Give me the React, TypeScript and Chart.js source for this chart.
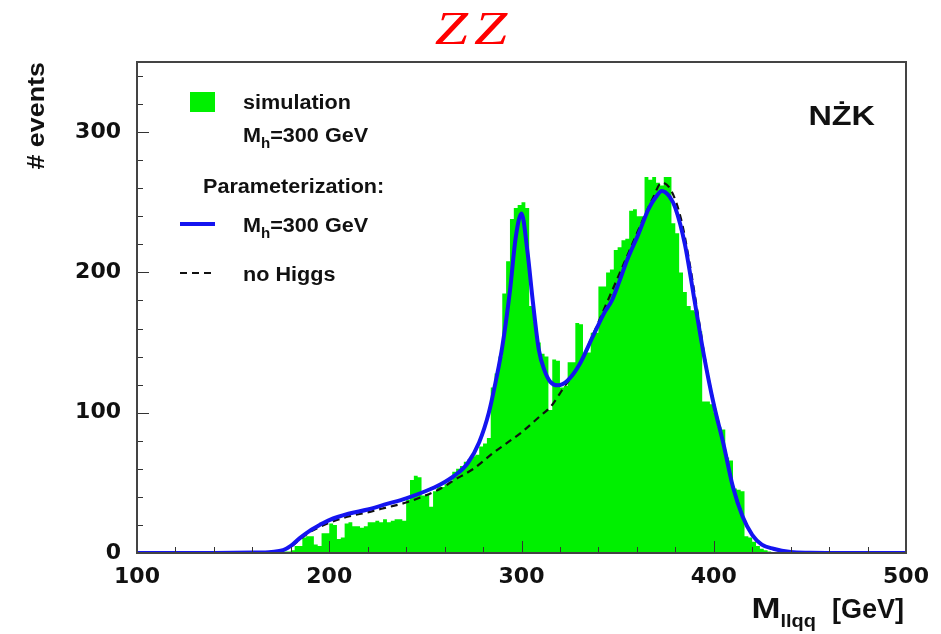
import React, { useEffect, useRef } from "react";
import { Chart, registerables } from "chart.js";

Chart.register(...registerables);

// ---- axes ----
const X_MIN = 100;
const X_MAX = 500;
const Y_MIN = 0;
const Y_MAX = 350;
const xMajorStep = 100;
const yMajorStep = 100;
const xMinorStep = 20;
const yMinorStep = 20;

// ---- simulated histogram (2 GeV bins, first bin lower edge 176 GeV) ----
const histFirstEdge = 176;
const histBinWidth = 2;
const simCounts = [
  1, 1, 2, 5, 5, 11, 12, 12, 6, 5,
  14, 14, 21, 20, 10, 11, 21, 22, 19, 19,
  18, 19, 22, 22, 23, 22, 24, 22, 23, 24,
  24, 23, 38, 52, 55, 54, 41, 42, 33, 44,
  48, 47, 49, 51, 58, 60, 62, 65, 67, 69,
  70, 76, 78, 82, 118, 128, 140, 185, 208, 238,
  246, 248, 250, 246, 176, 165, 150, 142, 140, 102,
  138, 137, 118, 119, 136, 136, 164, 163, 142, 143,
  157, 157, 190, 190, 200, 202, 216, 218, 223, 224,
  244, 245, 240, 240, 268, 266, 268, 264, 262, 268,
  268, 235, 228, 200, 186, 176, 173, 172, 158, 108,
  108, 106, 100, 90, 88, 68, 66, 46, 45, 44,
  12, 11, 8, 5, 3, 2, 1,
];

// ---- parameterization with Higgs (Mh = 300 GeV) ----
const higgsX = [100, 120, 140, 160, 170, 176, 180, 185, 190, 195, 200, 210, 220, 230, 240, 250, 258, 265, 272, 278, 283, 287, 290, 294, 297, 300, 303, 306, 309, 312, 315, 319, 324, 330, 337, 343, 347, 351, 355, 361, 366, 370, 373, 377, 380, 385, 390, 395, 400, 405, 410, 415, 420, 425, 431, 440, 450, 470, 500];
const higgsY = [0, 0, 0, 0.3, 0.8, 2, 5, 11, 16, 20, 23.5, 28, 31, 35, 39, 44, 49, 55, 64, 79, 100, 125, 147, 187, 225, 242, 216, 178, 145, 130, 122, 119.5, 123, 134, 154, 171, 180, 194, 209, 228, 245, 254, 258, 254, 246, 220, 180, 140, 106, 78, 47, 26, 13, 6, 3, 0.7, 0.2, 0, 0];

// ---- parameterization without Higgs ----
const noHiggsX = [100, 120, 140, 160, 170, 176, 180, 185, 190, 195, 200, 210, 220, 230, 240, 250, 258, 265, 275, 285, 292, 300, 310, 315, 322, 330, 337, 343, 350, 356, 362, 368, 373, 378, 383, 387, 392, 396, 400, 405, 410, 415, 420, 425, 431, 440, 450, 470, 500];
const noHiggsY = [0, 0, 0, 0.3, 0.8, 2, 4.5, 10, 15, 18.5, 21.5, 26, 29, 32.5, 36, 41, 46, 52, 60, 71, 78, 86, 98, 104, 118, 134, 155, 174, 196, 215, 234, 252, 264, 258, 238, 210, 168, 134, 107, 79, 48, 27, 13, 6, 3, 0.7, 0.2, 0, 0];

// ---- texts ----
const titleLetters = ["Z", "Z"];
const experimentLabel = "NŻK";
const legendSimLabel = "simulation";
const legendParamHeader = "Parameterization:";
const legendNoHiggsLabel = "no Higgs";
const massLabelMain = "M";
const massLabelSub = "h";
const massLabelRest = "=300 GeV";
const yTitle = "# events";
const xTitleMain = "M";
const xTitleSub = "llqq";
const xTitleRest = "[GeV]";

const GREEN = "#00f000";
const BLUE = "#1414f0";
const SANS = "Liberation Sans";

type Part = { t: string; size: number; dy: number; gapAfter?: number; sx?: number };

function partWidth(ctx: CanvasRenderingContext2D, p: Part, weight: string, family: string, sx: number) {
  ctx.save();
  ctx.font = `${weight} ${p.size}px "${family}"`;
  const w = ctx.measureText(p.t).width * (p.sx ?? sx) + (p.gapAfter || 0);
  ctx.restore();
  return w;
}

function partsWidth(ctx: CanvasRenderingContext2D, parts: Part[], weight: string, family: string, sx: number) {
  let w = 0;
  for (const p of parts) w += partWidth(ctx, p, weight, family, sx);
  return w;
}

function drawParts(ctx: CanvasRenderingContext2D, parts: Part[], x: number, y: number, weight: string, family: string, sx: number, color: string) {
  let cx = x;
  for (const p of parts) {
    const w = partWidth(ctx, p, weight, family, sx);
    ctx.save();
    ctx.font = `${weight} ${p.size}px "${family}"`;
    ctx.fillStyle = color;
    ctx.textAlign = "left";
    ctx.textBaseline = "alphabetic";
    ctx.translate(cx, y + p.dy);
    ctx.scale(p.sx ?? sx, 1);
    ctx.fillText(p.t, 0, 0);
    ctx.restore();
    cx += w;
  }
}

const decorPlugin = {
  id: "rootDecor",
  afterDatasetsDraw(chart: any) {
    const { ctx, chartArea: a, scales } = chart;
    const xs = scales.x;
    const ys = scales.y;
    ctx.save();

    // inner tick marks
    ctx.strokeStyle = "#333";
    ctx.lineWidth = 1;
    ctx.beginPath();
    for (let v = X_MIN; v <= X_MAX; v += xMinorStep) {
      const px = Math.round(xs.getPixelForValue(v)) + 0.5;
      const len = v % xMajorStep === 0 ? 12 : 6;
      ctx.moveTo(px, a.bottom);
      ctx.lineTo(px, a.bottom - len);
    }
    for (let v = Y_MIN; v <= Y_MAX; v += yMinorStep) {
      const py = Math.round(ys.getPixelForValue(v)) + 0.5;
      const len = v % yMajorStep === 0 ? 12 : 6;
      ctx.moveTo(a.left, py);
      ctx.lineTo(a.left + len, py);
    }
    ctx.stroke();

    // frame
    ctx.strokeStyle = "#444";
    ctx.lineWidth = 2;
    ctx.strokeRect(a.left, a.top, a.right - a.left, a.bottom - a.top);

    // legend
    const lx = a.left;
    const ly = a.top;
    ctx.fillStyle = GREEN;
    ctx.fillRect(lx + 53, ly + 30, 25, 20);
    const LS = 20;
    const LSX = 1.08;
    drawParts(ctx, [{ t: legendSimLabel, size: LS, dy: 0 }], lx + 106, ly + 47, "bold", SANS, LSX, "#111");
    const massParts: Part[] = [
      { t: massLabelMain, size: LS, dy: 0 },
      { t: massLabelSub, size: 14, dy: 6 },
      { t: massLabelRest, size: LS, dy: 0 },
    ];
    drawParts(ctx, massParts, lx + 106, ly + 80, "bold", SANS, LSX, "#111");
    drawParts(ctx, [{ t: legendParamHeader, size: LS, dy: 0 }], lx + 66, ly + 131, "bold", SANS, LSX, "#111");
    ctx.strokeStyle = BLUE;
    ctx.lineWidth = 4;
    ctx.beginPath();
    ctx.moveTo(lx + 43, ly + 162);
    ctx.lineTo(lx + 78, ly + 162);
    ctx.stroke();
    drawParts(ctx, massParts, lx + 106, ly + 170, "bold", SANS, LSX, "#111");
    ctx.strokeStyle = "#111";
    ctx.lineWidth = 2;
    ctx.setLineDash([7, 5]);
    ctx.beginPath();
    ctx.moveTo(lx + 43, ly + 211);
    ctx.lineTo(lx + 79, ly + 211);
    ctx.stroke();
    ctx.setLineDash([]);
    drawParts(ctx, [{ t: legendNoHiggsLabel, size: LS, dy: 0 }], lx + 106, ly + 219, "bold", SANS, LSX, "#111");

    // experiment label (right aligned)
    const ePart: Part[] = [{ t: experimentLabel, size: 27, dy: 0 }];
    const ew = partsWidth(ctx, ePart, "bold", SANS, 1.2);
    drawParts(ctx, ePart, a.right - 31 - ew, a.top + 63, "bold", SANS, 1.2, "#111");

    // title
    const tParts: Part[] = [
      { t: titleLetters[0], size: 46, dy: 0, gapAfter: 6 },
      { t: titleLetters[1], size: 46, dy: 0 },
    ];
    const tw = partsWidth(ctx, tParts, "italic", "Liberation Serif", 1.3);
    drawParts(ctx, tParts, 471 - tw / 2, 44, "italic", "Liberation Serif", 1.3, "#ff0000");

    // y title (rotated, aligned to top)
    ctx.save();
    ctx.translate(44, a.top);
    ctx.rotate(-Math.PI / 2);
    ctx.font = `bold 24px "${SANS}"`;
    const yw = ctx.measureText(yTitle).width * 1.12;
    ctx.translate(-yw, 0);
    ctx.scale(1.12, 1);
    ctx.fillStyle = "#111";
    ctx.textAlign = "left";
    ctx.textBaseline = "alphabetic";
    ctx.fillText(yTitle, 0, 0);
    ctx.restore();

    // x title (right aligned)
    const xParts: Part[] = [
      { t: xTitleMain, size: 29, dy: 0, sx: 1.2 },
      { t: xTitleSub, size: 19, dy: 9, gapAfter: 16 },
      { t: xTitleRest, size: 27, dy: 0, sx: 1.0 },
    ];
    const xw = partsWidth(ctx, xParts, "bold", SANS, 1.05);
    drawParts(ctx, xParts, a.right - 2 - xw, 618, "bold", SANS, 1.05, "#111");

    ctx.restore();
  },
};

export default function App() {
  const canvasRef = useRef<HTMLCanvasElement | null>(null);

  useEffect(() => {
    const canvas = canvasRef.current;
    if (!canvas) return;

    const histPoints = simCounts.map((c, i) => ({ x: histFirstEdge + i * histBinWidth, y: c }));
    histPoints.push({ x: histFirstEdge + simCounts.length * histBinWidth, y: 0 });
    const higgsPoints = higgsX.map((x, i) => ({ x, y: higgsY[i] }));
    const noHiggsPoints = noHiggsX.map((x, i) => ({ x, y: noHiggsY[i] }));

    const chart = new Chart(canvas, {
      type: "line",
      data: {
        datasets: [
          {
            label: "simulation",
            data: histPoints,
            stepped: "before",
            fill: "origin",
            backgroundColor: GREEN,
            borderWidth: 0,
            borderColor: GREEN,
            pointRadius: 0,
            order: 3,
          },
          {
            label: "no Higgs",
            data: noHiggsPoints,
            borderColor: "#111",
            borderWidth: 2.2,
            borderDash: [7, 5],
            cubicInterpolationMode: "monotone",
            fill: false,
            pointRadius: 0,
            order: 2,
          },
          {
            label: "Mh=300 GeV",
            data: higgsPoints,
            borderColor: BLUE,
            borderWidth: 4,
            cubicInterpolationMode: "monotone",
            fill: false,
            pointRadius: 0,
            order: 1,
          },
        ],
      } as any,
      options: {
        responsive: false,
        animation: false,
        events: [],
        layout: { padding: { top: 62, right: 35, left: 0, bottom: 0 } },
        plugins: {
          legend: { display: false },
          title: { display: false },
          tooltip: { enabled: false },
        },
        scales: {
          x: {
            type: "linear",
            min: X_MIN,
            max: X_MAX,
            grid: { display: false },
            border: { display: false },
            ticks: {
              stepSize: xMajorStep,
              includeBounds: false,
              padding: 3,
              color: "#111",
              maxRotation: 0,
              font: { family: "DejaVu Sans", weight: "bold", size: 22 },
            },
            afterFit: (s: any) => {
              s.height = 81;
            },
          },
          y: {
            type: "linear",
            min: Y_MIN,
            max: Y_MAX,
            grid: { display: false },
            border: { display: false },
            ticks: {
              stepSize: yMajorStep,
              includeBounds: false,
              padding: 8,
              color: "#111",
              font: { family: "DejaVu Sans", weight: "bold", size: 22 },
              callback: (v: any) => (Number(v) % yMajorStep === 0 ? String(v) : ""),
            },
            afterFit: (s: any) => {
              s.width = 137;
            },
          },
        },
      } as any,
      plugins: [decorPlugin],
    });

    return () => chart.destroy();
  }, []);

  return (
    <div style={{ position: "absolute", left: 0, top: 0, width: 941, height: 634, background: "#fff" }}>
      <canvas ref={canvasRef} width={941} height={634} style={{ display: "block" }} />
    </div>
  );
}
